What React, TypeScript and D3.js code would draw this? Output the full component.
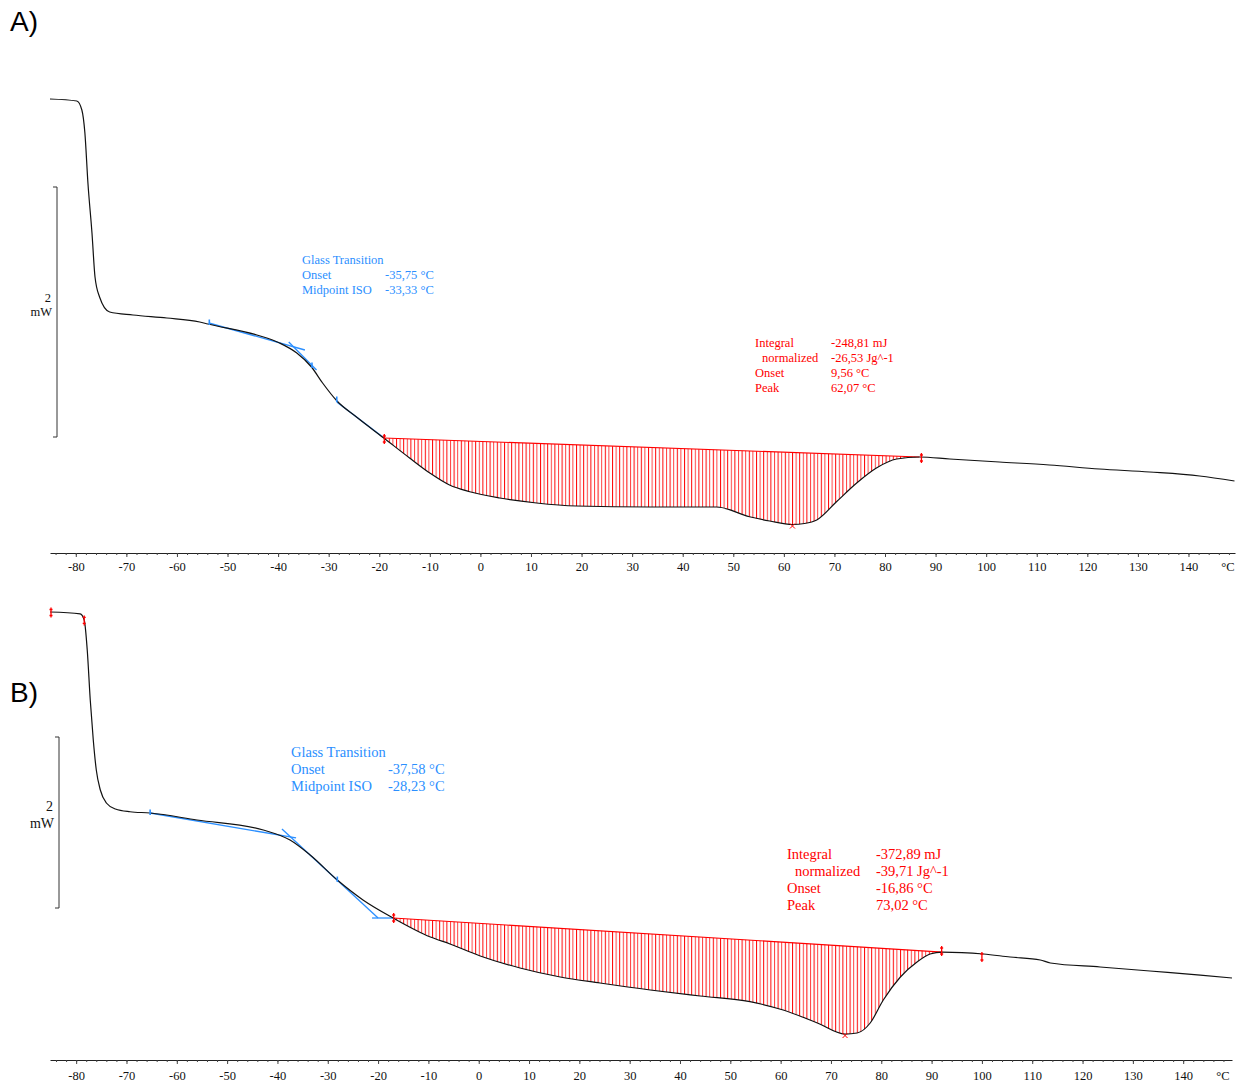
import React, { useRef, useEffect } from "react";
import * as d3 from "d3";

// panel A: temperature (°C) / heat flow (mW)
const tempA = [-85.1, -79.8, -78.8, -78.2, -77.6, -76.8, -76.2, -75.3, -73.3, -68.7, -62.0, -55.5, -53.9, -44.2, -39.7, -36.3, -33.4, -31.2, -28.4, -24.5, -19.1, -14.0, -10.0, -6.1, -2.1, 3.8, 11.1, 19.0, 33.5, 46.7, 53.2, 57.2, 61.7, 64.1, 66.5, 70.4, 74.4, 78.3, 82.3, 86.8, 92.8, 102.6, 112.5, 122.4, 132.3, 142.2, 149.1];
const flowA = [2.704, 2.688, 2.616, 2.432, 2.032, 1.632, 1.28, 1.12, 1.0, 0.976, 0.952, 0.92, 0.904, 0.816, 0.752, 0.672, 0.56, 0.432, 0.29, 0.16, -0.008, -0.168, -0.288, -0.384, -0.438, -0.488, -0.528, -0.552, -0.56, -0.56, -0.638, -0.672, -0.70, -0.692, -0.664, -0.518, -0.368, -0.248, -0.176, -0.16, -0.176, -0.2, -0.224, -0.256, -0.28, -0.312, -0.352];

// panel B
const tempB = [-85.2, -79.2, -78.4, -77.8, -77.2, -76.6, -76.0, -75.2, -74.0, -72.2, -69.3, -65.3, -56.0, -42.8, -37.5, -33.5, -28.1, -23.0, -17.0, -9.6, -5.7, 0.3, 8.2, 16.2, 24.1, 34.1, 44.0, 53.9, 60.5, 67.3, 72.8, 75.2, 77.8, 80.4, 83.8, 87.1, 89.7, 92.1, 100.3, 105.6, 111.6, 113.6, 123.5, 133.4, 143.4, 149.7];
const flowB = [3.462, 3.439, 3.368, 3.018, 2.433, 1.965, 1.614, 1.38, 1.228, 1.158, 1.126, 1.111, 1.029, 0.912, 0.795, 0.62, 0.327, 0.094, -0.117, -0.339, -0.421, -0.561, -0.702, -0.807, -0.877, -0.959, -1.029, -1.096, -1.193, -1.345, -1.474, -1.462, -1.345, -1.076, -0.807, -0.632, -0.538, -0.515, -0.538, -0.573, -0.608, -0.643, -0.69, -0.737, -0.784, -0.819];

// integration baseline [start, end]
const baseTempA = [-19.1, 86.8];
const baseFlowA = [-0.008, -0.16];
const baseTempB = [-17.0, 92.1];
const baseFlowB = [-0.117, -0.515];

// red limit markers
const limitTempA = [-19.0, 87.2];
const limitFlowA = [-0.016, -0.168];
const limitTempB = [-85.0, -78.4, -16.9, 92.0, 100.0];
const limitFlowB = [3.456, 3.363, -0.117, -0.503, -0.573];

// peak markers [temp, flow]
const peakA = [61.7, -0.70];
const peakB = [72.8, -1.474];

// glass transition tangents [t1, f1, t2, f2]
const glassSegA = [[-53.7, 0.912, -34.7, 0.696], [-37.9, 0.76, -32.4, 0.536], [-28.4, 0.28, -19.3, 0.0]];
const glassMarkA = [[-53.6, 0.912], [-33.3, 0.568], [-28.4, 0.296]];
const glassSegB = [[-65.3, 1.111, -36.3, 0.819], [-39.1, 0.924, -20.0, -0.117], [-21.2, -0.117, -17.0, -0.117]];
const glassMarkB = [[-65.3, 1.111], [-28.1, 0.327]];

const majorTicks = [-80, -70, -60, -50, -40, -30, -20, -10, 0, 10, 20, 30, 40, 50, 60, 70, 80, 90, 100, 110, 120, 130, 140];
const minorTicks = d3.range(-84, 150, 2);

const glassLabels = ["Glass Transition", "Onset", "Midpoint ISO"];
const glassValuesA = ["", "-35,75 °C", "-33,33 °C"];
const glassValuesB = ["", "-37,58 °C", "-28,23 °C"];
const peakLabels = ["Integral", "normalized", "Onset", "Peak"];
const peakIndent = [0, 1, 0, 0];
const peakValuesA = ["-248,81 mJ", "-26,53 Jg^-1", "9,56 °C", "62,07 °C"];
const peakValuesB = ["-372,89 mJ", "-39,71 Jg^-1", "-16,86 °C", "73,02 °C"];

const BLUE = "#2b8fff";
const RED = "#ff0000";
const SERIF = "'Liberation Serif', 'DejaVu Serif', serif";
const TICK_FS = 12.5;

const panels = [
  {
    id: "a", label: "A)", labelY: 31, temp: tempA, flow: flowA,
    baseT: baseTempA, baseF: baseFlowA, limT: limitTempA, limF: limitFlowA,
    peak: peakA, seg: glassSegA, mark: glassMarkA,
    glassVals: glassValuesA, peakVals: peakValuesA,
    xDomain: [-85.1, 149.2], xRange: [50, 1235], axisY: 553, tickPad: 5.5, unitX: 1228,
    barX: 57, barRange: [437, 187], twoY: 302, mwY: 316, barFs: 12.5,
    fs: 12.5, glassX: 302, glassValX: 385, glassY: 264, lineH: 15,
    peakX: 755, peakValX: 831, peakY: 347, indent: 7,
  },
  {
    id: "b", label: "B)", labelY: 702, temp: tempB, flow: flowB,
    baseT: baseTempB, baseF: baseFlowB, limT: limitTempB, limF: limitFlowB,
    peak: peakB, seg: glassSegB, mark: glassMarkB,
    glassVals: glassValuesB, peakVals: peakValuesB,
    xDomain: [-85.2, 149.7], xRange: [50, 1232], axisY: 1060, tickPad: 7.5, unitX: 1223,
    barX: 59, barRange: [908, 737], twoY: 811, mwY: 828, barFs: 14,
    fs: 14.5, glassX: 291, glassValX: 388, glassY: 757, lineH: 17,
    peakX: 787, peakValX: 876, peakY: 859, indent: 8,
  },
];

function drawPanel(svg, p) {
  const x = d3.scaleLinear().domain(p.xDomain).range(p.xRange);
  const y = d3.scaleLinear().domain([0, 2]).range(p.barRange);
  const g = svg.append("g");

  // hatch pattern
  const pat = svg.append("defs").append("pattern")
    .attr("id", `hatch-${p.id}`)
    .attr("patternUnits", "userSpaceOnUse")
    .attr("width", 7.2).attr("height", 20);
  pat.append("line").attr("x1", 0.5).attr("x2", 0.5).attr("y1", 0).attr("y2", 20)
    .attr("stroke", RED).attr("stroke-width", 1);
  pat.append("line").attr("x1", 4.1).attr("x2", 4.1).attr("y1", 0).attr("y2", 20)
    .attr("stroke", RED).attr("stroke-width", 1).attr("stroke-opacity", 0.75);

  const pts = p.temp.map((t, i) => [t, p.flow[i]]);
  const line = d3.line().x(d => x(d[0])).y(d => y(d[1])).curve(d3.curveMonotoneX);

  // hatched peak area between curve and baseline
  const seg = pts.filter(d => d[0] >= p.baseT[0] && d[0] <= p.baseT[1]);
  g.append("path")
    .attr("d", line(seg) + `L${x(p.baseT[1])},${y(p.baseF[1])}L${x(p.baseT[0])},${y(p.baseF[0])}Z`)
    .attr("fill", `url(#hatch-${p.id})`)
    .attr("stroke", "none");
  g.append("line")
    .attr("x1", x(p.baseT[0])).attr("y1", y(p.baseF[0]))
    .attr("x2", x(p.baseT[1])).attr("y2", y(p.baseF[1]))
    .attr("stroke", RED).attr("stroke-width", 1.2);

  // glass transition tangents
  g.selectAll(".gseg").data(p.seg).enter().append("line")
    .attr("x1", d => x(d[0])).attr("y1", d => y(d[1]))
    .attr("x2", d => x(d[2])).attr("y2", d => y(d[3]))
    .attr("stroke", BLUE).attr("stroke-width", 1.3);

  // curve
  g.append("path").attr("d", line(pts))
    .attr("fill", "none").attr("stroke", "#111").attr("stroke-width", 1.2);

  // blue marks
  g.selectAll(".gmark").data(p.mark).enter().append("path")
    .attr("d", d => `M${x(d[0])},${y(d[1]) - 3.5}V${y(d[1]) + 2}`)
    .attr("stroke", BLUE).attr("stroke-width", 1.6);

  // red limit marks
  g.selectAll(".lim").data(p.limT).enter().append("path")
    .attr("d", (d, i) => {
      const cx = x(d), cy = y(p.limF[i]);
      return `M${cx},${cy - 5}V${cy + 5}M${cx - 1.5},${cy - 3}h3M${cx - 1.5},${cy + 3}h3`;
    })
    .attr("stroke", RED).attr("stroke-width", 1.3).attr("fill", "none");

  // peak cross
  const px = x(p.peak[0]), py = y(p.peak[1]) + 1.5;
  g.append("path")
    .attr("d", `M${px - 2.5},${py - 2.5}L${px + 2.5},${py + 2.5}M${px - 2.5},${py + 2.5}L${px + 2.5},${py - 2.5}`)
    .attr("stroke", RED).attr("stroke-width", 1);

  // x axis
  const minorG = g.append("g").attr("transform", `translate(0,${p.axisY})`)
    .call(d3.axisBottom(x).tickValues(minorTicks).tickSize(2).tickSizeOuter(0).tickFormat(() => ""));
  minorG.select(".domain").attr("stroke", "#222");
  minorG.selectAll(".tick line").attr("stroke", "#444");
  const majorG = g.append("g").attr("transform", `translate(0,${p.axisY})`)
    .call(d3.axisBottom(x).tickValues(majorTicks).tickSize(4).tickSizeOuter(0).tickPadding(p.tickPad).tickFormat(d => String(d)));
  majorG.select(".domain").remove();
  majorG.selectAll(".tick line").attr("stroke", "#444");
  majorG.attr("font-family", SERIF).attr("font-size", TICK_FS);
  majorG.selectAll("text").attr("fill", "#111");
  g.append("text").attr("x", p.unitX).attr("y", p.axisY + p.tickPad + 4 + 0.71 * TICK_FS)
    .attr("text-anchor", "middle").attr("font-family", SERIF).attr("font-size", TICK_FS)
    .attr("fill", "#111").text("°C");

  // mW scale bar
  const [yb, yt] = p.barRange;
  g.append("path")
    .attr("d", `M${p.barX - 4},${yt}H${p.barX}V${yb}H${p.barX - 4}`)
    .attr("fill", "none").attr("stroke", "#333").attr("stroke-width", 1);
  g.append("text").attr("x", p.barX - 6).attr("y", p.twoY).attr("text-anchor", "end")
    .attr("font-family", SERIF).attr("font-size", p.barFs).attr("fill", "#111").text("2");
  g.append("text").attr("x", p.barX - 5).attr("y", p.mwY).attr("text-anchor", "end")
    .attr("font-family", SERIF).attr("font-size", p.barFs).attr("fill", "#111").text("mW");

  // glass transition text
  const gt = g.append("g").attr("font-family", SERIF).attr("font-size", p.fs).attr("fill", BLUE);
  glassLabels.forEach((s, i) => {
    gt.append("text").attr("x", p.glassX).attr("y", p.glassY + i * p.lineH).text(s);
    if (p.glassVals[i]) gt.append("text").attr("x", p.glassValX).attr("y", p.glassY + i * p.lineH).text(p.glassVals[i]);
  });

  // peak integration text
  const pt = g.append("g").attr("font-family", SERIF).attr("font-size", p.fs).attr("fill", RED);
  peakLabels.forEach((s, i) => {
    pt.append("text").attr("x", p.peakX + peakIndent[i] * p.indent).attr("y", p.peakY + i * p.lineH).text(s);
    pt.append("text").attr("x", p.peakValX).attr("y", p.peakY + i * p.lineH).text(p.peakVals[i]);
  });

  // panel label
  g.append("text").attr("x", 10).attr("y", p.labelY)
    .attr("font-family", "'Liberation Sans', Arial, sans-serif").attr("font-size", 28)
    .attr("fill", "#000").text(p.label);
}

const App = () => {
  const svgRef = useRef(null);

  useEffect(() => {
    const svg = d3.select(svgRef.current);
    svg.selectAll("*").remove();
    panels.forEach(p => drawPanel(svg, p));
  }, []);

  return (
    <svg ref={svgRef} width={1243} height={1086}
      style={{ position: "absolute", left: 0, top: 0, background: "#fff" }} />
  );
};

export default App;
